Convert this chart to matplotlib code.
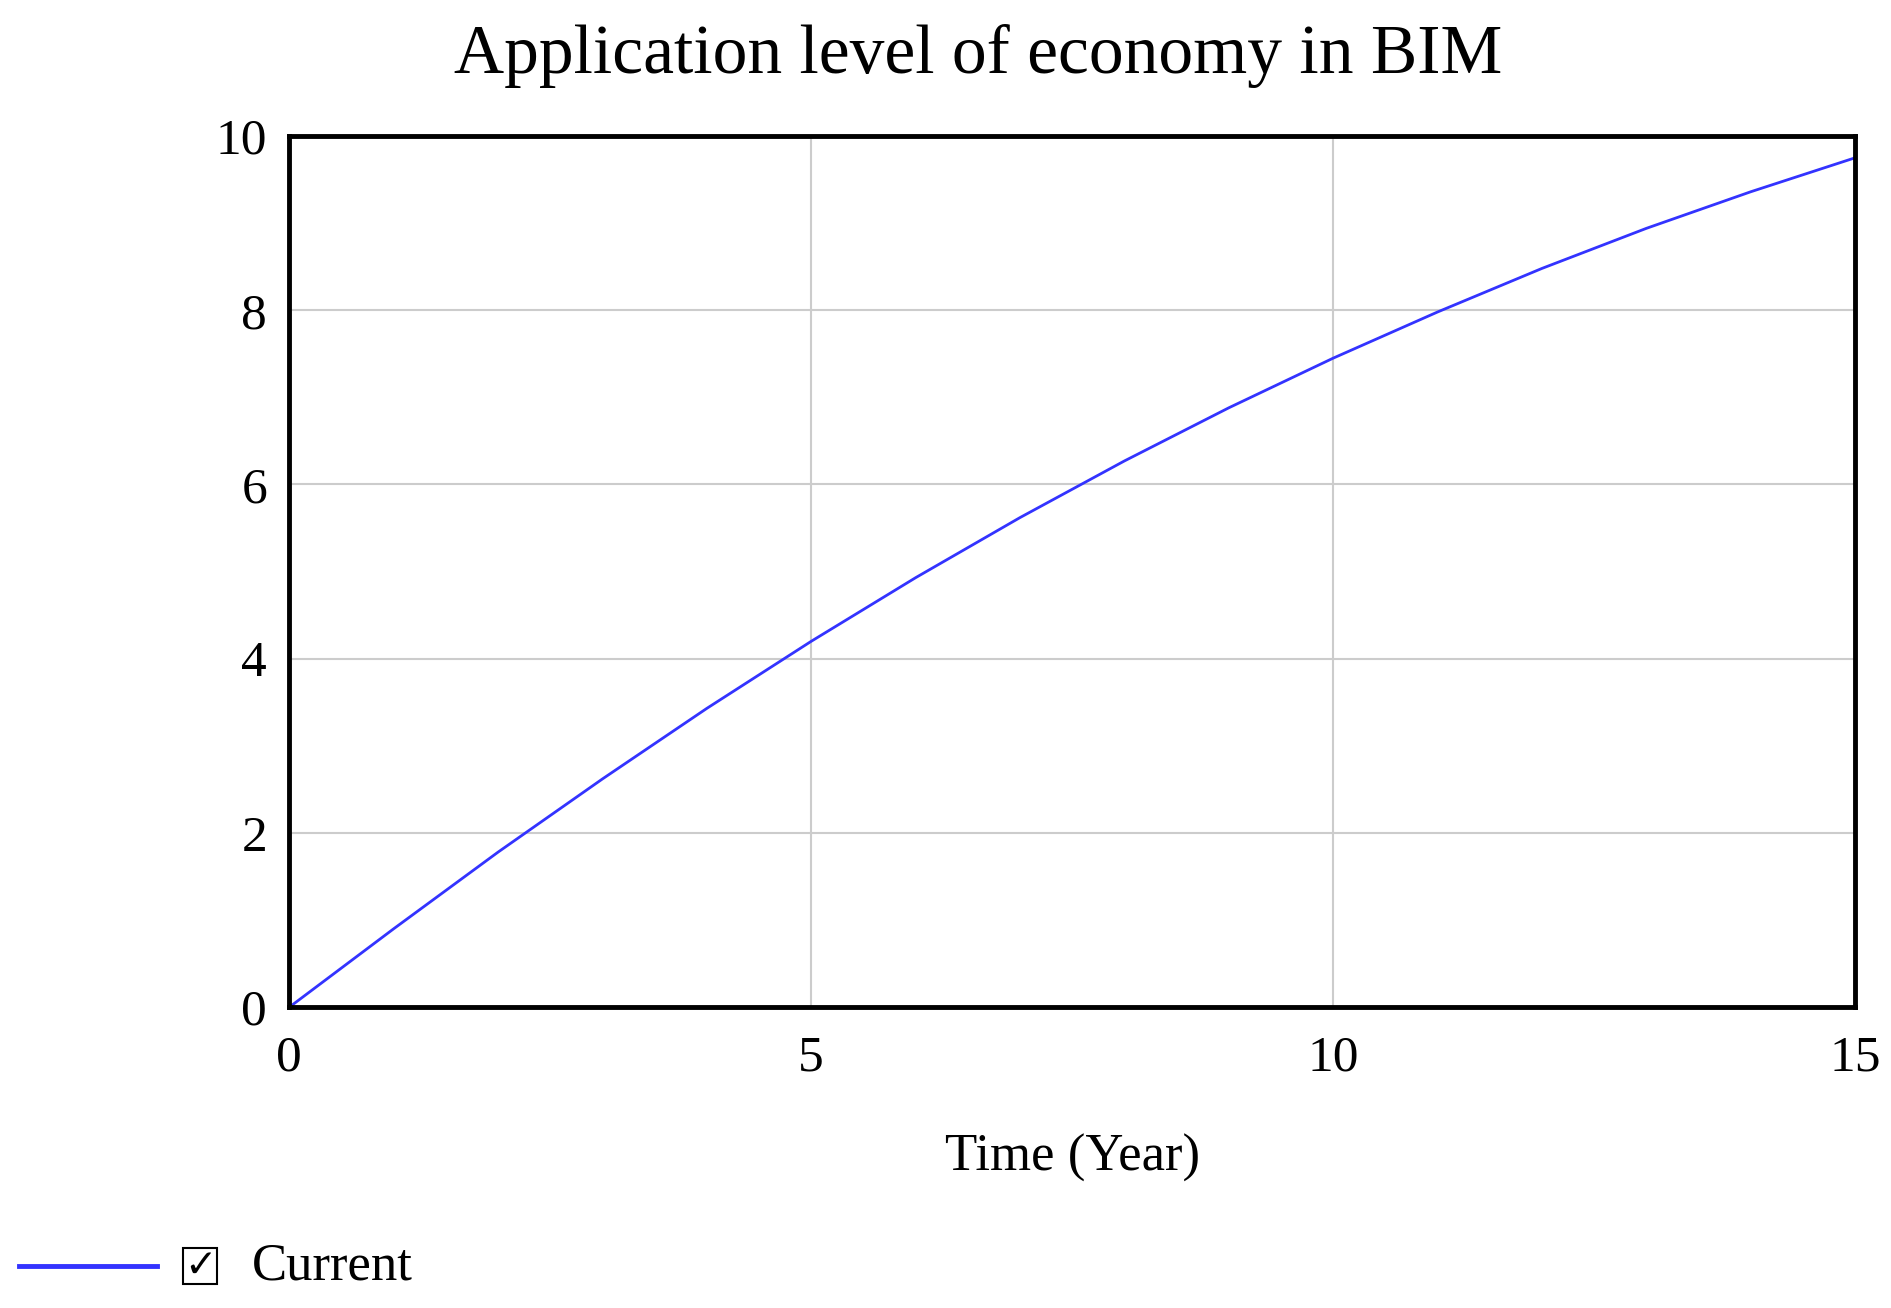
import matplotlib
matplotlib.use("Agg")
import matplotlib.pyplot as plt
from matplotlib.patches import Rectangle

years = [0,1,2,3,4,5,6,7,8,9,10,11,12,13,14,15]
current = [0,0.9,1.78,2.62,3.43,4.2,4.93,5.62,6.27,6.88,7.45,7.98,8.48,8.94,9.36,9.75]
xticks = [0,5,10,15]
yticks = [0,2,4,6,8,10]

plt.rcParams['font.family'] = ['Liberation Serif', 'DejaVu Serif']
fig = plt.figure(figsize=(18.91,13.08), dpi=100)
ax = fig.add_axes([0.153,0.230,0.828,0.666])
ax.plot(years, current, color='#3333ff', lw=2)
ax.set_xlim(0,15); ax.set_ylim(0,10)
ax.set_xticks(xticks); ax.set_yticks(yticks)
ax.grid(True, color='#cccccc', lw=1.5)
ax.tick_params(labelsize=37, length=0)
ax.tick_params(axis='x', pad=20)
ax.tick_params(axis='y', pad=16)
for s in ax.spines.values(): s.set_linewidth(3.5)
ax.set_xlabel('Time (Year)', fontsize=38, labelpad=38)
fig.text(0.517,0.957,'Application level of economy in BIM', fontsize=50, ha='center', va='center')
fig.add_artist(plt.Line2D([0.01,0.083],[0.032,0.032], color='#3333ff', lw=3.5))
fig.add_artist(Rectangle((0.097,0.018),0.018,0.028, fill=False, lw=1.5, transform=fig.transFigure))
fig.text(0.106,0.032,'✓', fontsize=28, ha='center', va='center', family=['DejaVu Sans'])
fig.text(0.133,0.032,'Current', fontsize=38, va='center')
fig.savefig('out.png', dpi=100)
